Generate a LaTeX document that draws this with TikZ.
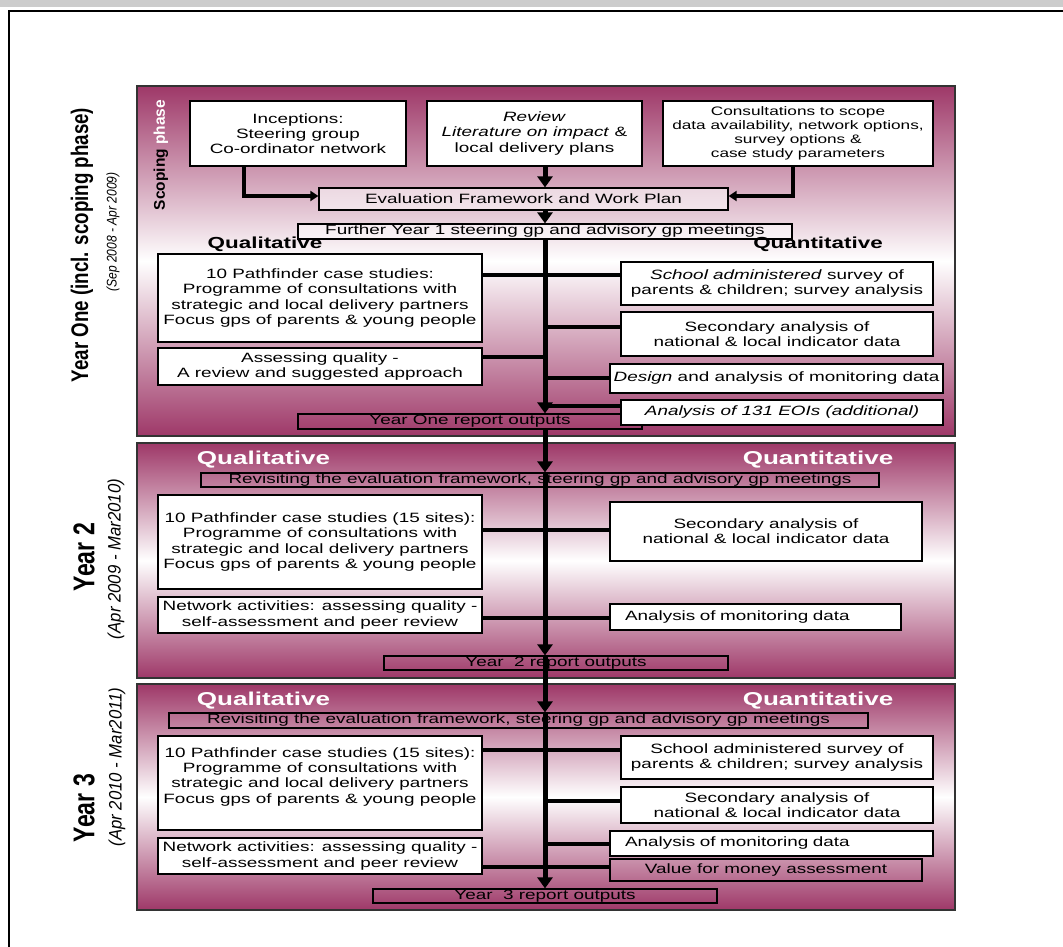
\documentclass[tikz,border=0pt]{standalone}
\usepackage{fontspec}
\setmainfont[FakeStretch=1.4]{Liberation Sans}
\newfontfamily\scopefont{Liberation Sans}
\newfontfamily\yearfont[FakeStretch=0.78]{Liberation Sans}
\newfontfamily\ynumfont[FakeStretch=0.77]{Liberation Sans}
\newfontfamily\datefont[FakeStretch=0.86]{Liberation Sans}
\newfontfamily\datebfont[FakeStretch=0.93]{Liberation Sans}
\usetikzlibrary{arrows.meta}
\definecolor{plum}{RGB}{158,56,104}
\definecolor{headgray}{RGB}{204,204,204}
\begin{document}
\begin{tikzpicture}[x=1pt,y=-1pt,
  font=\fontsize{13.5}{15.3}\selectfont,
  box/.style={draw=black, line width=1.2pt, fill=white, align=center, inner sep=1pt},
  openbox/.style={draw=black, line width=1.2pt, align=center, inner sep=0pt},
  panel/.style={draw=black!80, line width=1.3pt, top color=plum, bottom color=plum, middle color=white},
  spine/.style={line width=5pt, -{Triangle[width=15pt,length=11pt]}},
  link/.style={line width=3.5pt},
  feed/.style={line width=3.3pt, -{Triangle[width=10pt,length=8pt]}},
  headA/.style={font=\bfseries\fontsize{16}{18}\selectfont},
  headB/.style={font=\bfseries\fontsize{18.6}{20}\selectfont, text=white},
  yearlab/.style={rotate=90, font={\yearfont\bfseries\fontsize{24}{26}\selectfont}},
  ynumlab/.style={rotate=90, font={\ynumfont\bfseries\fontsize{30}{32}\selectfont}},
  datelab/.style={rotate=90, font={\datefont\itshape\fontsize{14}{16}\selectfont}},
  dateblab/.style={rotate=90, font={\datebfont\itshape\fontsize{18}{20}\selectfont}}]
\useasboundingbox (0,0) rectangle (1063,947);

% page header strip and outer frame
\fill[headgray] (0,0) rectangle (1063,7);
\draw[line width=2.5pt] (9,947) -- (9,11) -- (1063,11);

% the three year panels
\path[panel] (137,86) rectangle (955,436);
\path[panel] (137,443) rectangle (955,678);
\path[panel] (137,684) rectangle (955,910);

% year labels
\node[yearlab] (lab1) at (82,245) {Year One (incl. scoping phase)};
\node[datelab] (dat1) at (113,232) {(Sep 2008 - Apr 2009)};
\node[ynumlab] (lab2) at (84,557) {Year 2};
\node[dateblab] (dat2) at (116,559) {(Apr 2009 - Mar2010)};
\node[ynumlab] (lab3) at (84,808) {Year 3};
\node[dateblab] (dat3) at (117,767) {(Apr 2010 - Mar2011)};
\node[rotate=90, font={\scopefont\bfseries\fontsize{15.5}{17}\selectfont}] (scope) at (161,155) {Scoping \textcolor{white}{phase}};

\coordinate (sp) at (545,0);

% ---------- Year one ----------
\node[box, minimum width=216pt, minimum height=65pt] (inc) at (298,133.5) {Inceptions:\\Steering group\\Co-ordinator network};
\node[box, minimum width=215pt, minimum height=65pt] (rev) at (534.5,133.5) {\textit{Review}\\\textit{Literature on impact} \&\\local delivery plans};
\node[box, minimum width=270pt, minimum height=65pt, font=\fontsize{12.3}{14}\selectfont] (cons) at (798,133.5) {Consultations to scope\\data availability, network options,\\survey options \&\\case study parameters};
\node[box, fill opacity=.55, text opacity=1, minimum width=409pt, minimum height=22pt] (eval) at (523.5,199) {Evaluation Framework and Work Plan};
\node[box, fill opacity=.55, text opacity=1, inner sep=0pt, minimum width=494pt, minimum height=15pt] (fur) at (545,231.5) {Further Year 1 steering gp and advisory gp meetings};

\coordinate (fi) at (244,196);
\coordinate (fc) at (793,196);
\draw[feed] (inc.south -| fi) |- (eval.west |- fi);
\draw[feed] (cons.south -| fc) |- (eval.east |- fc);

\node[headA] (ql1) at (265,244) {Qualitative};
\node[headA] (qn1) at (818,244) {Quantitative};

\node[box, minimum width=324pt, minimum height=88pt] (path1) at (320,298) {10 Pathfinder case studies:\\Programme of consultations with\\strategic and local delivery partners\\Focus gps of parents \& young people};
\node[box, minimum width=324pt, minimum height=37pt] (ass1) at (320,366.5) {Assessing quality -\\A review and suggested approach};
\node[box, minimum width=312pt, minimum height=43pt] (sch1) at (777,283.5) {\textit{School administered} survey of\\parents \& children; survey analysis};
\node[box, minimum width=312pt, minimum height=44pt] (sec1) at (777,334) {Secondary analysis of\\national \& local indicator data};
\node[box, inner sep=0pt, minimum width=333pt, minimum height=29pt] (des1) at (776.5,378.5) {\textit{Design} and analysis of monitoring data};
\node[openbox, minimum width=344pt, minimum height=15pt] (rep1) at (470,421.5) {Year One report outputs};
\node[box, minimum width=322pt, minimum height=25pt] (eoi1) at (782,412.5) {\textit{Analysis of 131 EOIs (additional)}};

\coordinate (j11) at (545,275);
\coordinate (j12) at (545,327);
\coordinate (j13) at (545,357);
\coordinate (j14) at (545,378);
\coordinate (j15) at (545,406);
\draw[link] (path1.east |- j11) -- (sch1.west |- j11);
\draw[link] (j12) -- (sec1.west |- j12);
\draw[link] (ass1.east |- j13) -- (j13);
\draw[link] (j14) -- (des1.west |- j14);
\draw[link] (j15) -- (eoi1.west |- j15);

\draw[spine] (rev.south -| sp) -- (eval.north -| sp);
\draw[spine] (eval.south -| sp) -- (fur.north -| sp);
\draw[spine] (fur.south -| sp) -- (rep1.north -| sp);

% ---------- Year 2 ----------
\node[headB] (ql2) at (263.5,460) {Qualitative};
\node[headB] (qn2) at (818,460) {Quantitative};
\node[openbox, minimum width=678pt, minimum height=14pt] (rev2) at (540,480) {Revisiting the evaluation framework, steering gp and advisory gp meetings};
\node[box, minimum width=324pt, minimum height=94pt] (path2) at (320,542) {10 Pathfinder case studies (15 sites):\\Programme of consultations with\\strategic and local delivery partners\\Focus gps of parents \& young people};
\node[box, minimum width=324pt, minimum height=36pt] (net2) at (320,615) {Network activities: assessing quality -\\self-assessment and peer review};
\node[box, minimum width=312pt, minimum height=59pt] (sec2) at (766,531.5) {Secondary analysis of\\national \& local indicator data};
\node[box, text width=261pt, align=left, inner xsep=15pt, minimum height=26pt] (mon2) at (755.5,617) {Analysis of monitoring data};
\node[openbox, minimum width=344pt, minimum height=14pt] (rep2) at (556,663) {Year\ \ 2 report outputs};

\coordinate (j21) at (545,530);
\coordinate (j22) at (545,618);
\draw[link] (path2.east |- j21) -- (sec2.west |- j21);
\draw[link] (net2.east |- j22) -- (mon2.west |- j22);

\draw[spine] (rep1.south -| sp) -- (rev2.north -| sp);
\draw[spine] (rev2.north -| sp) -- (rep2.north -| sp);

% ---------- Year 3 ----------
\node[headB] (ql3) at (263.5,701) {Qualitative};
\node[headB] (qn3) at (818,701) {Quantitative};
\node[openbox, minimum width=699pt, minimum height=15pt] (rev3) at (518.5,720.5) {Revisiting the evaluation framework, steering gp and advisory gp meetings};
\node[box, minimum width=324pt, minimum height=94pt] (path3) at (320,783) {10 Pathfinder case studies (15 sites):\\Programme of consultations with\\strategic and local delivery partners\\Focus gps of parents \& young people\\\mbox{}};
\node[box, minimum width=324pt, minimum height=36pt] (net3) at (320,856) {Network activities: assessing quality -\\self-assessment and peer review};
\node[box, minimum width=312pt, minimum height=43pt] (sch3) at (777,757.5) {School administered survey of\\parents \& children; survey analysis};
\node[box, minimum width=312pt, minimum height=36pt] (sec3) at (777,805) {Secondary analysis of\\national \& local indicator data};
\node[box, text width=293pt, align=left, inner xsep=15pt, minimum height=25pt] (mon3) at (771.5,843.5) {Analysis of monitoring data};
\node[openbox, minimum width=312pt, minimum height=22pt] (vfm3) at (766,870) {Value for money assessment};
\node[openbox, minimum width=344pt, minimum height=14pt] (rep3) at (545,896) {Year\ \ 3 report outputs};

\coordinate (j31) at (545,750);
\coordinate (j32) at (545,801);
\coordinate (j33) at (545,844);
\coordinate (j34) at (545,867);
\draw[link] (path3.east |- j31) -- (sch3.west |- j31);
\draw[link] (j32) -- (sec3.west |- j32);
\draw[link] (j33) -- (mon3.west |- j33);
\draw[link] (net3.east |- j34) -- (vfm3.west |- j34);

\draw[spine] (rep2.north -| sp) -- (rev3.north -| sp);
\draw[spine] (rev3.north -| sp) -- (rep3.north -| sp);
\end{tikzpicture}
\end{document}
